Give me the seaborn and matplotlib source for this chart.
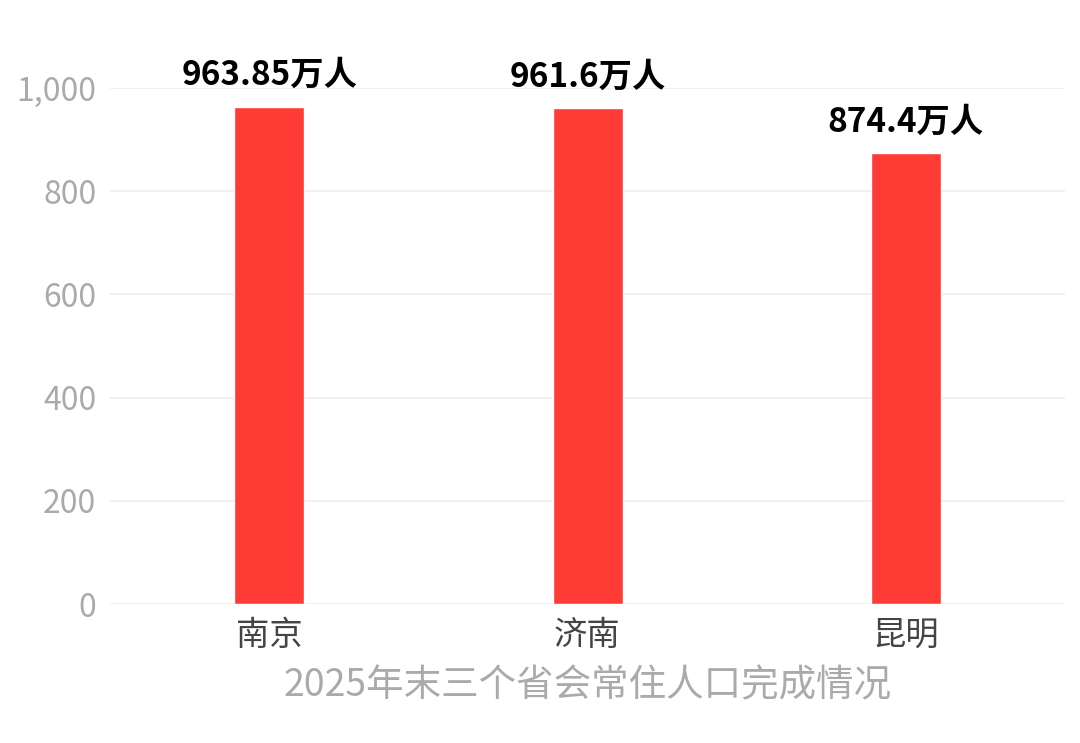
import matplotlib
matplotlib.use("Agg")
import matplotlib.pyplot as plt
import seaborn as sns
import pandas as pd

cities = ["南京", "济南", "昆明"]
values = [963.85, 961.6, 874.4]
labels = ["963.85万人", "961.6万人", "874.4万人"]
title = "2025年末三个省会常住人口完成情况"

sns.set_theme(style="white")
plt.rcParams['font.family'] = ['Noto Sans CJK SC', 'DejaVu Sans']

fig = plt.figure(figsize=(10.8, 7.43), dpi=100)
ax = fig.add_axes([0.102, 0.187, 0.884, 0.6946])
df = pd.DataFrame({"city": cities, "v": values})
sns.barplot(data=df, x="city", y="v", color="#FF3B36", saturation=1, width=0.22, ax=ax)
ax.set_ylim(0, 1000)
ax.set_xlim(-0.5, 2.5)
ax.set_yticks([0, 200, 400, 600, 800, 1000])
ax.set_yticklabels(["0", "200", "400", "600", "800", "1,000"])
ax.yaxis.grid(True, color="#eeeeee", linewidth=1.2)
ax.set_axisbelow(True)
for s in ax.spines.values():
    s.set_visible(False)
ax.tick_params(axis='y', colors="#aaaaaa", labelsize=23, length=0, pad=10)
ax.tick_params(axis='x', colors="#444444", labelsize=24, length=0, pad=10)
for i, (v, l) in enumerate(zip(values, labels)):
    ax.text(i, v + 28, l, ha="center", va="bottom", fontsize=24, fontweight="bold", color="black", clip_on=False)
ax.set_ylabel("")
ax.set_xlabel(title, color="#aaaaaa", fontsize=27, labelpad=10)
fig.savefig("out.png", dpi=100)
